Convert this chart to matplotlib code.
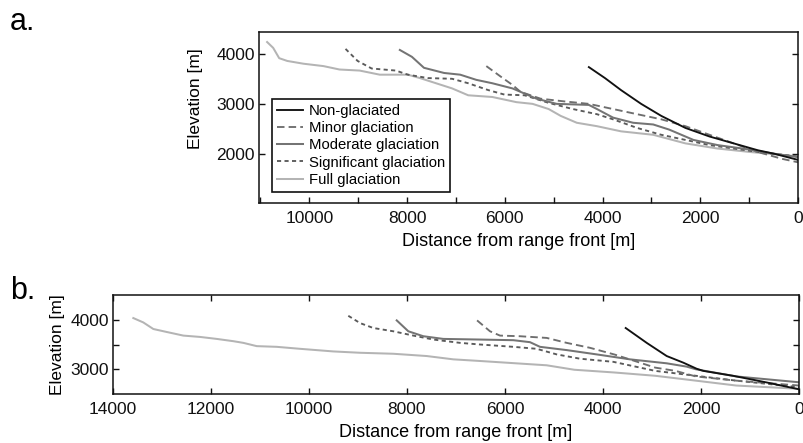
import matplotlib
matplotlib.use("Agg")
import matplotlib.pyplot as plt

plt.rcParams['font.family'] = ['Liberation Sans', 'DejaVu Sans']

# ---- Panel a: longitudinal valley profiles (distance from range front [m], elevation [m])
a_non_d = [4280, 3950, 3621, 3210, 2798, 2304, 1811, 1317, 823, 494, 0]
a_non_e = [3740, 3521, 3281, 3007, 2767, 2527, 2356, 2219, 2082, 2014, 1890]

a_minor_d = [6378, 6090, 5843, 5679, 5267, 4773, 4280, 3786, 3292, 2798, 2304, 1811, 1317, 823, 329, 0]
a_minor_e = [3760, 3555, 3384, 3247, 3110, 3055, 3007, 2904, 2801, 2699, 2562, 2390, 2219, 2048, 1911, 1842]

a_mod_d = [8148, 7901, 7654, 7242, 6913, 6584, 6255, 5843, 5679, 5350, 4938, 4280, 4115, 3786,
           3374, 2963, 2634, 2140, 1646, 988, 494, 0]
a_mod_e = [4082, 3945, 3726, 3623, 3589, 3486, 3418, 3315, 3247, 3110, 3007, 2986, 2904, 2733,
           2630, 2596, 2493, 2288, 2185, 2096, 2014, 1945]

a_sig_d = [9259, 9012, 8724, 8230, 7983, 7572, 7078, 6749, 6337, 6008, 5596, 5103, 4609, 4115,
           3786, 3292, 2798, 2304, 1811, 1317, 658, 0]
a_sig_e = [4103, 3863, 3712, 3671, 3589, 3521, 3507, 3418, 3281, 3192, 3178, 3027, 2904, 2801,
           2699, 2527, 2390, 2288, 2185, 2116, 2027, 1959]

a_full_d = [10864, 10740, 10617, 10452, 10123, 9711, 9382, 8971, 8559, 7983, 7736, 7407, 7078,
            6749, 6255, 5761, 5432, 5103, 4856, 4527, 4115, 3621, 2963, 2304, 1646, 988, 0]
a_full_e = [4240, 4124, 3918, 3863, 3808, 3760, 3692, 3671, 3589, 3589, 3521, 3418, 3315,
            3178, 3144, 3041, 3007, 2904, 2767, 2630, 2562, 2459, 2390, 2219, 2116, 2048, 1960]

# ---- Panel b
b_non_d = [3537, 3108, 2700, 2361, 2088, 1953, 1341, 659, 0]
b_non_e = [3833, 3533, 3267, 3133, 3010, 2967, 2867, 2733, 2595]

b_minor_d = [6570, 6306, 6102, 5694, 5149, 4741, 4265, 3760, 3347, 2934, 2521, 2107, 1281, 0]
b_minor_e = [3987, 3767, 3680, 3667, 3633, 3533, 3433, 3296, 3165, 3033, 2967, 2855, 2770, 2671]

b_mod_d = [8210, 7973, 7667, 7259, 6510, 5830, 5490, 5286, 4741, 4129, 3449, 2700, 2292, 2107, 1281, 0]
b_mod_e = [3987, 3767, 3667, 3613, 3600, 3587, 3547, 3453, 3387, 3300, 3200, 3120, 3053, 3000, 2855, 2737]

b_sig_d = [9198, 8959, 8687, 8280, 7871, 7463, 6918, 6510, 5830, 5353, 4945, 4469, 3790, 2934, 2107, 1281, 0]
b_sig_e = [4080, 3933, 3833, 3767, 3680, 3600, 3533, 3500, 3453, 3413, 3300, 3213, 3150, 2967, 2868, 2770, 2638]

b_full_d = [13585, 13382, 13177, 12904, 12565, 12224, 11884, 11545, 11340, 11067, 10659, 10184,
            9504, 8959, 8280, 7598, 7055, 6510, 5149, 4586, 3760, 2934, 2107, 1281, 0]
b_full_e = [4034, 3946, 3813, 3753, 3680, 3653, 3613, 3567, 3533, 3467, 3453, 3413,
            3360, 3333, 3313, 3267, 3200, 3167, 3080, 2990, 2934, 2868, 2770, 2671, 2605]

labels = ['Non-glaciated', 'Minor glaciation', 'Moderate glaciation',
          'Significant glaciation', 'Full glaciation']

styles = [
    dict(color='#111111', lw=1.35, ls='-'),
    dict(color='#6e6e6e', lw=1.35, ls=(0, (4, 2.2))),
    dict(color='#747474', lw=1.45, ls='-'),
    dict(color='#5a5a5a', lw=1.35, ls=(0, (2.2, 1.8))),
    dict(color='#b4b4b4', lw=1.45, ls='-'),
]

W, H = 804, 443
fig = plt.figure(figsize=(W / 100, H / 100), dpi=100)


def frac(l, t, r, b):
    return [l / W, 1 - b / H, (r - l) / W, (b - t) / H]


ax1 = fig.add_axes(frac(259, 32, 798, 203))
ax2 = fig.add_axes(frac(113, 295, 799, 394))

series_a = [(a_non_d, a_non_e), (a_minor_d, a_minor_e), (a_mod_d, a_mod_e),
            (a_sig_d, a_sig_e), (a_full_d, a_full_e)]
series_b = [(b_non_d, b_non_e), (b_minor_d, b_minor_e), (b_mod_d, b_mod_e),
            (b_sig_d, b_sig_e), (b_full_d, b_full_e)]

# draw light curves first so darker ones sit on top
order = [4, 3, 2, 1, 0]
handles = {}
for i in order:
    d, e = series_a[i]
    handles[i], = ax1.plot(d, e, label=labels[i], **styles[i])
    d, e = series_b[i]
    ax2.plot(d, e, **styles[i])

ax1.set_xlim(11030, 0)
ax1.set_ylim(1030, 4440)
ax1.set_xticks(range(0, 11001, 1000))
ax1.set_xticklabels([str(v) if v % 2000 == 0 else '' for v in range(0, 11001, 1000)])
ax1.set_yticks([2000, 3000, 4000])

ax2.set_xlim(14000, 0)
ax2.set_ylim(2500, 4500)
ax2.set_xticks(range(0, 14001, 2000))
ax2.set_yticks([3000, 3500, 4000])
ax2.set_yticklabels(['3000', '', '4000'])

for ax in (ax1, ax2):
    for s in ax.spines.values():
        s.set_linewidth(1.1)
        s.set_color('#111111')
    ax.tick_params(direction='in', length=4.5, width=1.0, labelsize=12.5,
                   right=True, colors='#111111')
    ax.tick_params(axis='x', pad=5.5)
    ax.tick_params(axis='y', pad=3)
    ax.set_xlabel('Distance from range front [m]', fontsize=13, labelpad=5)
    ax.set_ylabel('Elevation [m]', fontsize=12.5)

ax2.tick_params(top=True)
ax1.yaxis.set_label_coords(-0.104, 0.608)
ax1.xaxis.set_label_coords(0.482, -0.175)
ax2.yaxis.set_label_coords(-0.07, 0.5)

leg = ax1.legend([handles[i] for i in range(5)], labels, loc='upper left',
                 bbox_to_anchor=(0.024, 0.608), borderaxespad=0, fontsize=10.7,
                 fancybox=False, framealpha=1, edgecolor='#111111',
                 handlelength=1.75, handletextpad=0.4, labelspacing=0.22,
                 borderpad=0.32)
leg.get_frame().set_linewidth(1.2)

fig.text(10 / W, 1 - 30 / H, 'a.', fontsize=22, va='baseline', ha='left')
fig.text(10 / W, 1 - 299 / H, 'b.', fontsize=22, va='baseline', ha='left')

fig.savefig('out.png', dpi=100)
